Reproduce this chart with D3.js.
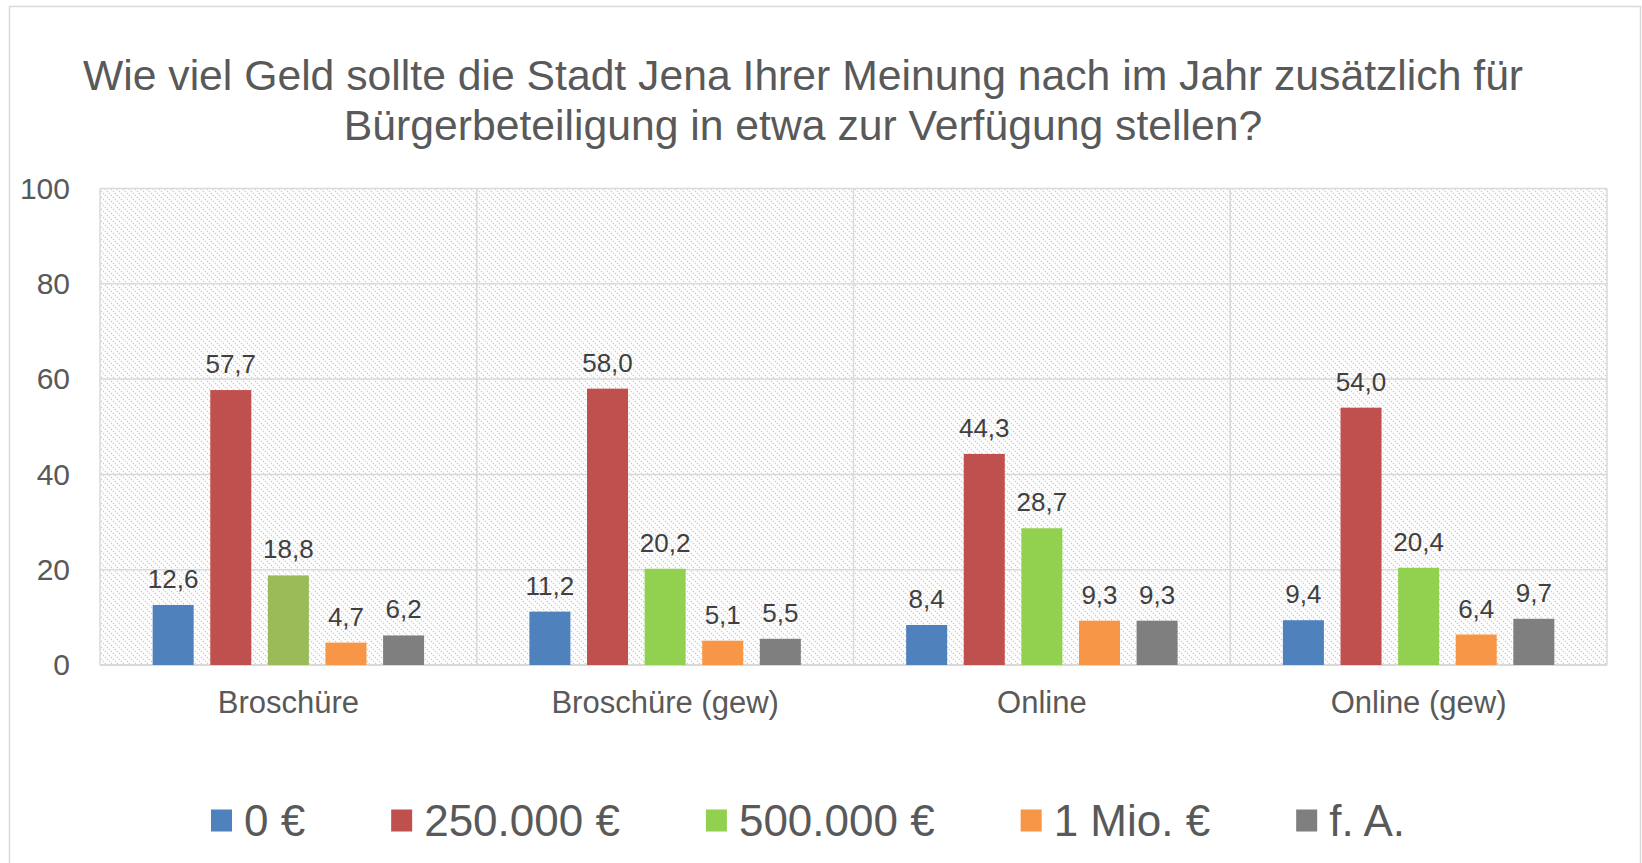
<!DOCTYPE html>
<html>
<head>
<meta charset="utf-8">
<script src="https://cdn.jsdelivr.net/npm/d3@7"></script>
<style>
  html, body { margin: 0; padding: 0; background: #fff; }
  svg { display: block; font-family: "Liberation Sans", Arial, sans-serif; }
</style>
</head>
<body>
<div class="container"></div>
<script>
var width = 1642,
    height = 863,
    margin = {top: 188.5, right: 35, bottom: 198, left: 100};

var titleLines = ['Wie viel Geld sollte die Stadt Jena Ihrer Meinung nach im Jahr zusätzlich für',
                  'Bürgerbeteiligung in etwa zur Verfügung stellen?'];
var categories = ['Broschüre', 'Broschüre (gew)', 'Online', 'Online (gew)'];
var seriesNames = ['0 €', '250.000 €', '500.000 €', '1 Mio. €', 'f. A.'];
var val0 = [12.6, 11.2, 8.4, 9.4];
var val250k = [57.7, 58.0, 44.3, 54.0];
var val500k = [18.8, 20.2, 28.7, 20.4];
var val1m = [4.7, 5.1, 9.3, 6.4];
var valFA = [6.2, 5.5, 9.3, 9.7];
var yTicks = [0, 20, 40, 60, 80, 100];
var seriesColors = ['#4F81BD', '#C0504D', '#92D050', '#F79646', '#7F7F7F'];
// first group's 500.000 € bar is the older olive green
var green500k = ['#9BBB59', '#92D050', '#92D050', '#92D050'];

var seriesValues = [val0, val250k, val500k, val1m, valFA];

var de = d3.formatLocale({decimal: ',', thousands: '.', grouping: [3], currency: ['', ' €']});
var fmt = de.format('.1f');

var svg = d3.select('.container').append('svg')
    .attr('width', width)
    .attr('height', height);

// hatch background
var pat = svg.append('defs').append('pattern')
    .attr('id', 'hatch')
    .attr('patternUnits', 'userSpaceOnUse')
    .attr('width', 6)
    .attr('height', 6);
pat.append('rect').attr('width', 6).attr('height', 6).attr('fill', '#fff');
pat.append('path')
    .attr('d', 'M-1,-1 L7,7 M-1,5 L1,7 M5,-1 L7,1')
    .attr('stroke', '#cdcdcd')
    .attr('stroke-width', 1.3)
    .attr('stroke-dasharray', '1.4 1.4');

// outer frame
svg.append('rect')
    .attr('x', 9.5).attr('y', 6.5)
    .attr('width', 1631).attr('height', 900)
    .attr('fill', 'none')
    .attr('stroke', '#d9d9d9')
    .attr('stroke-width', 1.5);

var x0 = d3.scaleBand()
    .domain(categories)
    .range([margin.left, width - margin.right]);

var x1 = d3.scaleBand()
    .domain(seriesNames)
    .range([0, x0.bandwidth()])
    .paddingInner(0.288)
    .paddingOuter(0.914);

var y = d3.scaleLinear()
    .domain([0, 100])
    .range([height - margin.bottom, margin.top]);

var plotTop = y(100), plotBottom = y(0);

svg.append('rect')
    .attr('x', margin.left)
    .attr('y', plotTop)
    .attr('width', width - margin.right - margin.left)
    .attr('height', plotBottom - plotTop)
    .attr('fill', 'url(#hatch)');

// gridlines
svg.append('g').selectAll('line')
    .data(yTicks)
    .enter().append('line')
    .attr('x1', margin.left)
    .attr('x2', width - margin.right)
    .attr('y1', (d) => y(d))
    .attr('y2', (d) => y(d))
    .attr('stroke', '#d9d9d9')
    .attr('stroke-width', (d) => d === 0 ? 2 : 1.5);

var vx = categories.map((c) => x0(c)).concat([width - margin.right]);
svg.append('g').selectAll('line')
    .data(vx)
    .enter().append('line')
    .attr('x1', (d) => d)
    .attr('x2', (d) => d)
    .attr('y1', plotTop)
    .attr('y2', plotBottom)
    .attr('stroke', '#d9d9d9')
    .attr('stroke-width', 1.5);

// bars
var groups = svg.append('g').selectAll('g')
    .data(categories)
    .enter().append('g')
    .attr('transform', (c) => 'translate(' + x0(c) + ',0)');

var bars = groups.selectAll('g')
    .data((c, ci) => seriesNames.map((s, si) => ({
        s: s,
        v: seriesValues[si][ci],
        color: si === 2 ? green500k[ci] : seriesColors[si]
    })))
    .enter().append('g');

bars.append('rect')
    .attr('x', (d) => x1(d.s))
    .attr('width', x1.bandwidth())
    .attr('y', (d) => y(d.v))
    .attr('height', (d) => y(0) - y(d.v))
    .attr('fill', (d) => d.color);

bars.append('text')
    .attr('x', (d) => x1(d.s) + x1.bandwidth() / 2)
    .attr('y', (d) => y(d.v) - 17)
    .attr('text-anchor', 'middle')
    .attr('font-size', 26)
    .attr('fill', '#404040')
    .text((d) => fmt(d.v));

// axes
var yAxis = svg.append('g')
    .attr('transform', 'translate(' + margin.left + ',0)')
    .call(d3.axisLeft(y).tickValues(yTicks).tickSize(0).tickPadding(30).tickFormat(d3.format('d')));
yAxis.select('.domain').remove();
yAxis.selectAll('text')
    .attr('font-size', 30)
    .attr('font-family', '"Liberation Sans", Arial, sans-serif')
    .attr('fill', '#595959');

var xAxis = svg.append('g')
    .attr('transform', 'translate(0,' + plotBottom + ')')
    .call(d3.axisBottom(x0).tickSize(0).tickPadding(26));
xAxis.select('.domain').remove();
xAxis.selectAll('text')
    .attr('font-size', 31)
    .attr('font-family', '"Liberation Sans", Arial, sans-serif')
    .attr('fill', '#595959');

// title
svg.append('text')
    .attr('x', 803)
    .attr('y', 90)
    .attr('text-anchor', 'middle')
    .attr('font-size', 42.7)
    .attr('fill', '#595959')
    .selectAll('tspan')
    .data(titleLines)
    .enter().append('tspan')
    .attr('x', 803)
    .attr('dy', (d, i) => i ? 50 : 0)
    .text((d) => d);

// legend
var legend = svg.append('g');
var items = legend.selectAll('g')
    .data(seriesNames)
    .enter().append('g');
items.append('rect')
    .attr('width', 21)
    .attr('height', 22)
    .attr('y', 809.5)
    .attr('fill', (d, i) => seriesColors[i]);
items.append('text')
    .attr('x', 33)
    .attr('y', 836)
    .attr('font-size', 44)
    .attr('fill', '#595959')
    .text((d) => d);

var lx = 0;
items.each(function() {
    var g = d3.select(this);
    g.attr('transform', 'translate(' + lx + ',0)');
    lx += 33 + g.select('text').node().getComputedTextLength() + 86;
});
var legendW = lx - 86;
legend.attr('transform', 'translate(' + (808 - legendW / 2) + ',0)');
</script>
</body>
</html>
